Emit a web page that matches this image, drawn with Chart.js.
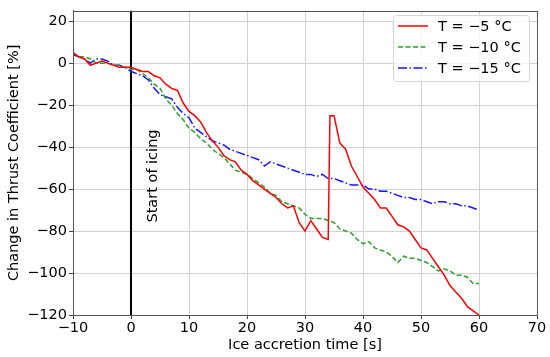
<!doctype html>
<html>
<head>
	<title>Thrust coefficient change during icing</title>
	<script src="https://cdn.jsdelivr.net/npm/chart.js@4/dist/chart.umd.min.js"></script>
	<style>
		body { margin: 0; background: #fff; }
		#holder { width: 550px; height: 357px; }
	</style>
</head>
<body>
	<div id="holder">
		<canvas id="chart-area" width="550" height="357"></canvas>
	</div>

	<script>
		// time axis (s), one point per second
		const timeSteps = [-10, -9, -8, -7, -6, -5, -4, -3, -2, -1, 0, 1, 2, 3, 4, 5, 6, 7, 8, 9,
			10, 11, 12, 13, 14, 15, 16, 17, 18, 19, 20, 21, 22, 23, 24, 25, 26, 27, 28, 29,
			30, 31, 32, 33, 34, 35, 36, 37, 38, 39, 40, 41, 42, 43, 44, 45, 46, 47, 48, 49,
			50, 51, 52, 53, 54, 55, 56, 57, 58, 59, 60];
		// red curve has an extra sample at the jump
		const timeRed = [-10, -9, -8, -7, -6, -5, -4, -3, -2, -1, 0, 1, 2, 3, 4, 5, 6, 7, 8, 9,
			10, 11, 12, 13, 14, 15, 16, 17, 18, 19, 20, 21, 22, 23, 24, 25, 26, 27, 28, 29,
			30, 31, 32, 33, 34, 34.3, 35, 36, 37, 38, 39, 40, 41, 42, 43, 44, 45, 46, 47, 48, 49,
			50, 51, 52, 53, 54, 55, 56, 57, 58, 59, 60];

		const seriesLabels = ['T = \u22125 \u00b0C', 'T = \u221210 \u00b0C', 'T = \u221215 \u00b0C'];

		const minus5 = [5, 3, 2, -1, 0, 1, 0, -1, -2, -2, -2, -3, -4, -4, -6, -7, -10, -12, -13, -19,
			-23, -25, -28, -33, -37, -40, -44, -46, -47, -51, -53, -56, -58, -60, -62, -64, -67, -69, -68, -76,
			-80, -75, -79, -83, -84, -25, -25, -38, -41, -49, -54, -59, -62, -65, -69, -69, -73, -77, -78, -80, -84,
			-88, -89, -93, -97, -101, -106, -109, -112, -116, -118, -120];
		const minus10 = [5, 3, 3, 2, 0, 0, 0, -1, -1, -2, -3, -3, -5, -7, -10, -12, -17, -20, -24, -27,
			-31, -33, -36, -38, -41, -43, -45, -48, -51, -52, -53, -55, -57, -59, -62, -63, -66, -67, -68, -69,
			-72, -74, -74, -74, -75, -76, -79, -80, -81, -84, -86, -85, -88, -89, -90, -92, -95, -92, -93, -93,
			-94, -95, -97, -99, -98, -99, -101, -101, -102, -105, -105];
		const minus15 = [4, 3, 2, 0, 2, 2, 1, -1, -1, -2, -4, -5, -6, -8, -12, -15, -16, -17, -21, -24,
			-26, -31, -33, -35, -37, -38, -39, -41, -42, -43, -44, -45, -46, -49, -47, -48, -49, -50, -51, -52,
			-53, -53, -54, -53, -55, -55, -56, -57, -58, -58, -58, -60, -60, -61, -61, -62, -63, -64, -64, -65,
			-65, -66, -67, -66, -66, -67, -67, -68, -68, -69, -70];

		const yTicks = [-120, -100, -80, -60, -40, -20, 0, 20];
		const icingStart = 0;
		const icingText = 'Start of icing';

		const pts = (xs, ys) => xs.map((x, i) => ({ x: x, y: ys[i] }));
		const fmt = v => (v < 0 ? '\u2212' + Math.abs(v) : String(v));
		const FONT = 'DejaVu Sans';
		const FSIZE = 14.5;

		// icing line, annotation text, frame and legend box inside the plot
		const extras = {
			id: 'extras',
			beforeDatasetsDraw(chart) {
				const ctx = chart.ctx;
				const a = chart.chartArea;
				const x0 = chart.scales.x.getPixelForValue(icingStart);
				ctx.save();
				ctx.strokeStyle = '#000';
				ctx.lineWidth = 2;
				ctx.beginPath();
				ctx.moveTo(x0, a.top);
				ctx.lineTo(x0, a.bottom);
				ctx.stroke();
				ctx.translate(x0 + 22, 176);
				ctx.rotate(-Math.PI / 2);
				ctx.fillStyle = '#000';
				ctx.font = FSIZE + 'px "' + FONT + '"';
				ctx.textAlign = 'center';
				ctx.textBaseline = 'middle';
				ctx.fillText(icingText, 0, 0);
				ctx.restore();
			},
			afterDraw(chart) {
				const ctx = chart.ctx;
				const a = chart.chartArea;
				ctx.save();
				ctx.strokeStyle = '#555';
				ctx.lineWidth = 1;
				ctx.strokeRect(Math.round(a.left) + 0.5, Math.round(a.top) + 0.5,
					Math.round(a.right - a.left), Math.round(a.bottom - a.top));

				const bx = 393, by = 15, bw = 136, bh = 66;
				ctx.fillStyle = 'rgba(255,255,255,0.8)';
				ctx.strokeStyle = '#d6d6d6';
				ctx.beginPath();
				ctx.roundRect(bx + 0.5, by + 0.5, bw, bh, 3);
				ctx.fill();
				ctx.stroke();
				ctx.font = FSIZE + 'px "' + FONT + '"';
				ctx.textBaseline = 'middle';
				chart.data.datasets.forEach((ds, i) => {
					const y = by + 11 + i * 21;
					ctx.strokeStyle = ds.borderColor;
					ctx.lineWidth = ds.borderWidth;
					ctx.setLineDash(ds.borderDash || []);
					ctx.beginPath();
					ctx.moveTo(bx + 5, y);
					ctx.lineTo(bx + 35, y);
					ctx.stroke();
					ctx.setLineDash([]);
					ctx.fillStyle = '#000';
					ctx.fillText(ds.label, bx + 45, y + 1);
				});
				ctx.restore();
			}
		};

		const ctx2d = document.getElementById('chart-area').getContext('2d');
		new Chart(ctx2d, {
			type: 'line',
			data: {
				datasets: [{
					label: seriesLabels[0],
					data: pts(timeRed, minus5),
					borderColor: '#ff0000',
					borderWidth: 1.5
				}, {
					label: seriesLabels[1],
					data: pts(timeSteps, minus10),
					borderColor: '#2ca02c',
					borderWidth: 1.5,
					borderDash: [5, 2.5]
				}, {
					label: seriesLabels[2],
					data: pts(timeSteps, minus15),
					borderColor: '#1515ff',
					borderWidth: 1.5,
					borderDash: [9, 2.5, 1.5, 2.5]
				}]
			},
			options: {
				responsive: false,
				animation: false,
				parsing: false,
				elements: {
					point: { radius: 0 },
					line: { tension: 0 }
				},
				layout: { padding: { top: 8, right: 13, left: 0, bottom: 0 } },
				plugins: {
					legend: { display: false },
					tooltip: { enabled: false }
				},
				scales: {
					x: {
						type: 'linear',
						min: -10,
						max: 70,
						afterFit(s) { s.height = 42; },
						ticks: {
							stepSize: 10,
							color: '#000',
							font: { family: FONT, size: FSIZE },
							padding: 1,
							maxRotation: 0,
							callback: v => fmt(v)
						},
						grid: { color: '#d2d2d2', lineWidth: 1, tickLength: 4, tickColor: '#444' },
						border: { color: '#555', width: 1 },
						title: {
							display: true,
							text: 'Ice accretion time [s]',
							color: '#000',
							font: { family: FONT, size: FSIZE },
							padding: { top: 0, bottom: 3 }
						}
					},
					y: {
						min: -120,
						max: 25,
						afterFit(s) { s.width = 73; },
						afterBuildTicks(s) { s.ticks = yTicks.map(v => ({ value: v })); },
						ticks: {
							color: '#000',
							font: { family: FONT, size: FSIZE },
							padding: 2,
							callback: v => fmt(v)
						},
						grid: { color: '#d2d2d2', lineWidth: 1, tickLength: 4, tickColor: '#444' },
						border: { color: '#555', width: 1 },
						title: {
							display: true,
							text: 'Change in Thrust Coefficient [%]',
							color: '#000',
							font: { family: FONT, size: FSIZE },
							padding: { top: 6, bottom: 0 }
						}
					}
				}
			},
			plugins: [extras]
		});
	</script>
</body>
</html>
